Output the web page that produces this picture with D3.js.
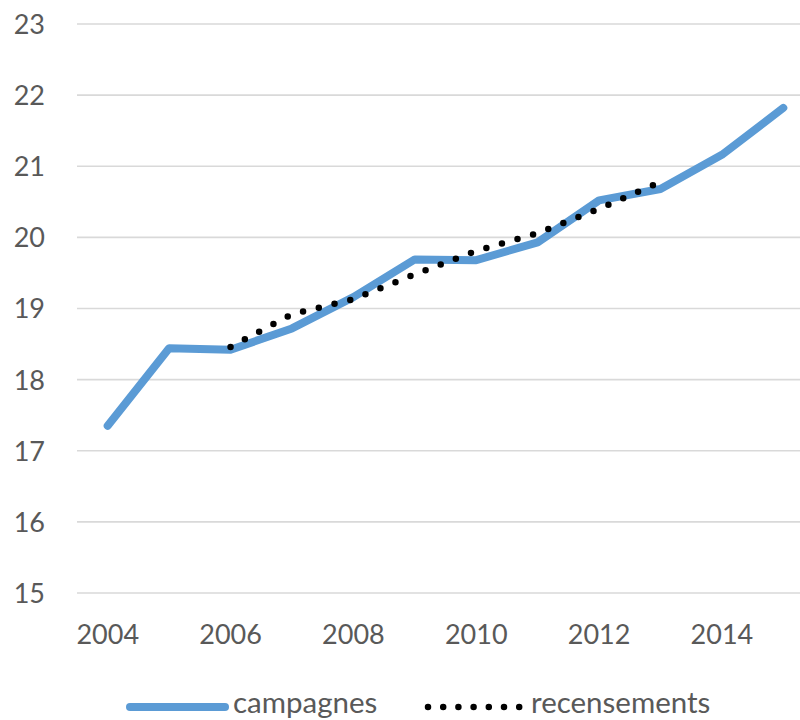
<!DOCTYPE html>
<html>
<head>
<meta charset="utf-8">
<script src="https://cdn.jsdelivr.net/npm/d3@7"></script>
<style>
  html, body { margin: 0; padding: 0; background: #ffffff; }
  svg { display: block; }
  text { font-family: Lato, "Open Sans", sans-serif; fill: #595959; }
</style>
</head>
<body>
<svg id="chart" width="800" height="720"></svg>
<script>
// Years on the category axis
const years = [2004, 2005, 2006, 2007, 2008, 2009, 2010, 2011, 2012, 2013, 2014, 2015];
// Series: campaign estimates (all years)
const campagnes = [17.35, 18.44, 18.42, 18.72, 19.16, 19.69, 19.68, 19.93, 20.52, 20.68, 21.16, 21.82];
// Series: census figures (2006-2013)
const recensementsYears = [2006, 2007, 2008, 2009, 2010, 2011, 2012, 2013];
const recensements = [18.46, 18.92, 19.13, 19.48, 19.81, 20.06, 20.40, 20.78];
// Axis ticks
const yTicks = [15, 16, 17, 18, 19, 20, 21, 22, 23];
const xTickLabels = [2004, 2006, 2008, 2010, 2012, 2014];
// Legend entries
const seriesNames = ["campagnes", "recensements"];

const svg = d3.select("#chart");
const blue = "#5b9bd5";

const x = d3.scaleBand().domain(years).range([77, 814]).padding(0);
const xc = d => x(d) + x.bandwidth() / 2;
const y = d3.scaleLinear().domain([15, 23]).range([593, 24]);

// Horizontal gridlines
svg.append("g")
  .selectAll("line")
  .data(yTicks)
  .join("line")
  .attr("x1", 77).attr("x2", 814)
  .attr("y1", d => y(d)).attr("y2", d => y(d))
  .attr("stroke", "#d9d9d9")
  .attr("stroke-width", 1.6);

// Y axis labels
const yAxis = d3.axisLeft(y).tickValues(yTicks).tickSize(0).tickPadding(0).tickFormat(d3.format("d"));
svg.append("g")
  .attr("transform", "translate(45,0)")
  .call(yAxis)
  .call(g => g.select(".domain").remove())
  .call(g => g.selectAll("text")
    .attr("font-size", 27)
    .attr("font-family", "Lato, 'Open Sans', sans-serif")
    .attr("fill", "#595959")
    .attr("dy", "0.35em"));

// X axis labels
const xAxis = d3.axisBottom(x).tickValues(xTickLabels).tickSize(0).tickPadding(0);
svg.append("g")
  .attr("transform", "translate(0,625)")
  .call(xAxis)
  .call(g => g.select(".domain").remove())
  .call(g => g.selectAll("text")
    .attr("font-size", 27)
    .attr("font-family", "Lato, 'Open Sans', sans-serif")
    .attr("fill", "#595959")
    .attr("dy", "0.72em"));

// Campaign line
const lineC = d3.line().x((d, i) => xc(years[i])).y(d => y(d));
svg.append("path")
  .datum(campagnes)
  .attr("d", lineC)
  .attr("fill", "none")
  .attr("stroke", blue)
  .attr("stroke-width", 8)
  .attr("stroke-linejoin", "round")
  .attr("stroke-linecap", "round");

// Census dotted line
const lineR = d3.line().x((d, i) => xc(recensementsYears[i])).y(d => y(d));
svg.append("path")
  .datum(recensements)
  .attr("d", lineR)
  .attr("fill", "none")
  .attr("stroke", "#000000")
  .attr("stroke-width", 6.5)
  .attr("stroke-dasharray", "0 16.2")
  .attr("stroke-linecap", "round");

// Legend
const legend = svg.append("g").attr("transform", "translate(0,707)");
legend.append("line")
  .attr("x1", 130).attr("x2", 225).attr("y1", 0).attr("y2", 0)
  .attr("stroke", blue).attr("stroke-width", 8).attr("stroke-linecap", "round");
legend.append("text")
  .attr("x", 233).attr("y", 6)
  .attr("font-size", 29.5)
  .text(seriesNames[0]);
legend.append("line")
  .attr("x1", 428).attr("x2", 520).attr("y1", 0).attr("y2", 0)
  .attr("stroke", "#000").attr("stroke-width", 6.5)
  .attr("stroke-dasharray", "0 15.2").attr("stroke-linecap", "round");
legend.append("text")
  .attr("x", 531).attr("y", 6)
  .attr("font-size", 29.5)
  .text(seriesNames[1]);
</script>
</body>
</html>
